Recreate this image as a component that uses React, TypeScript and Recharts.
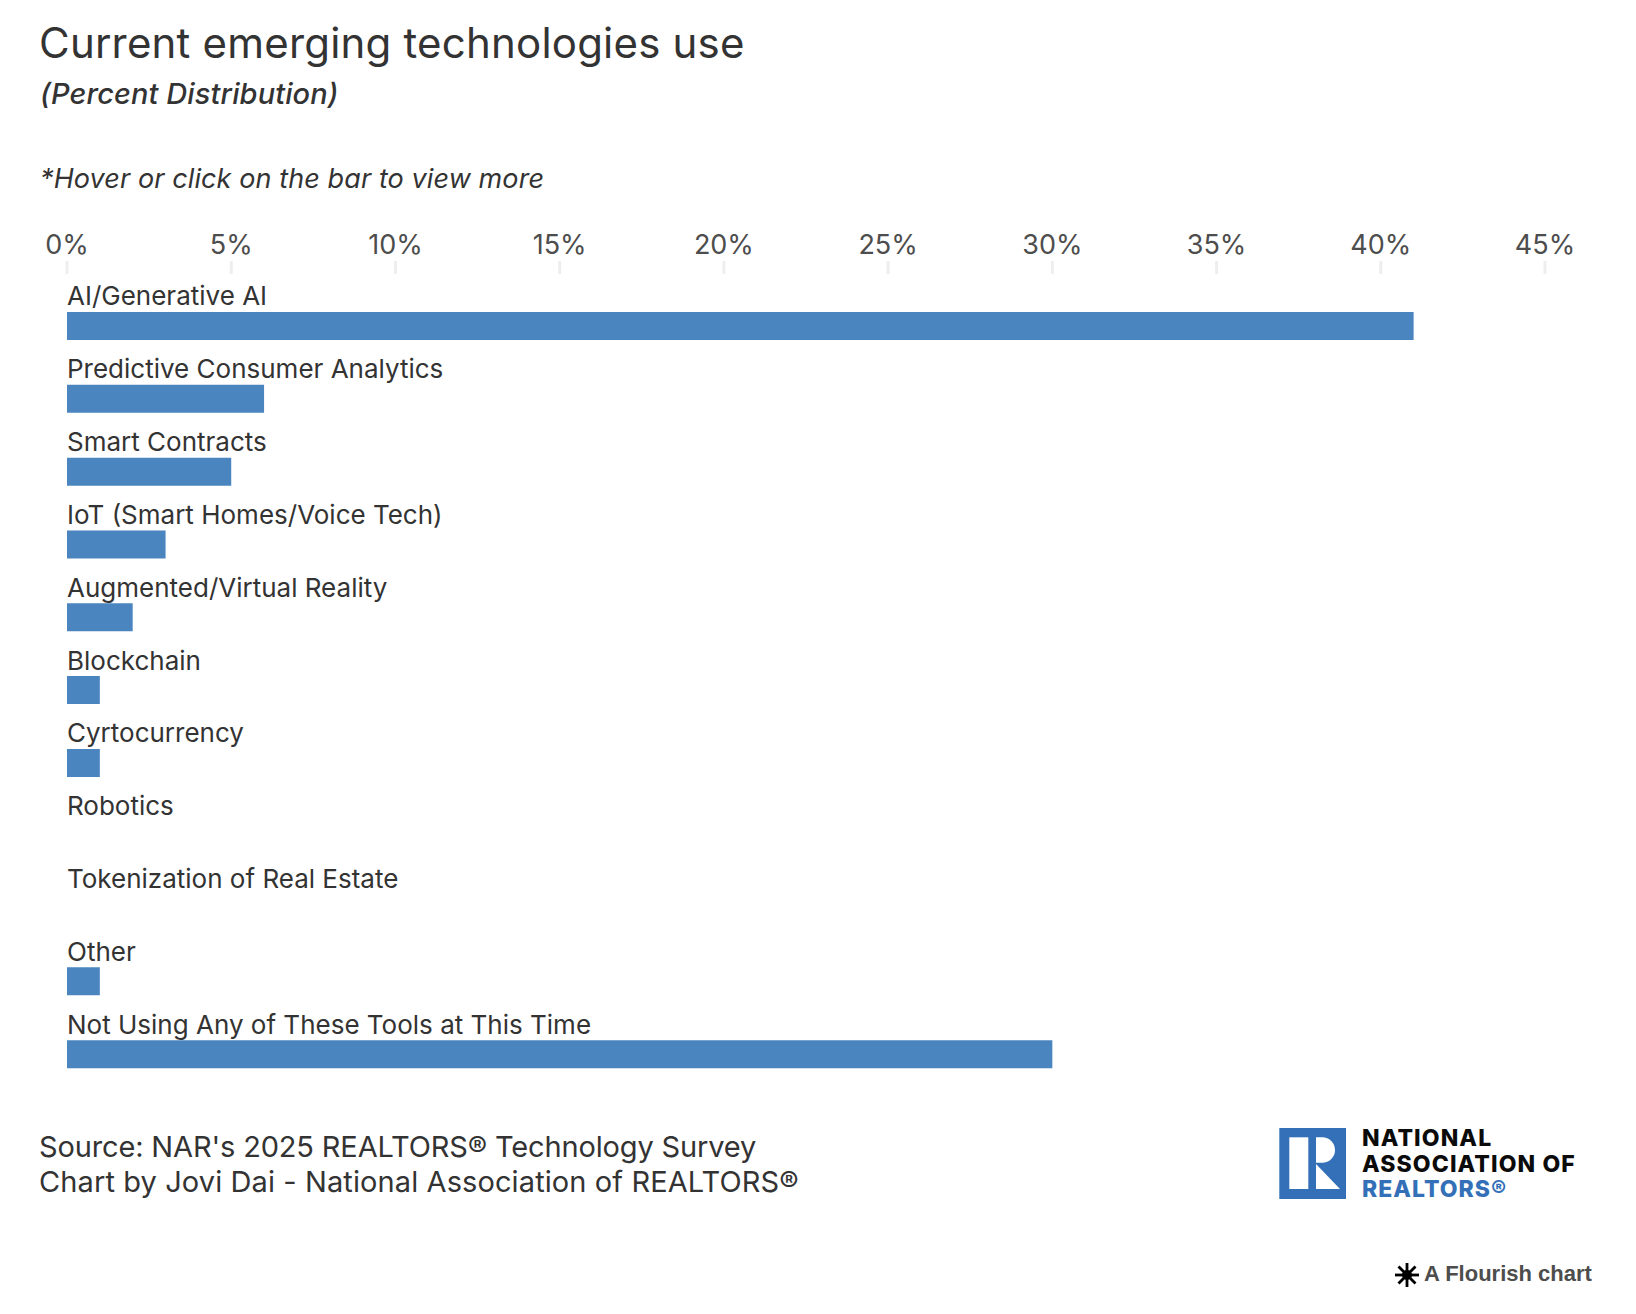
import { BarChart, Bar, XAxis, YAxis } from "recharts";

const categories = [
  "AI/Generative AI",
  "Predictive Consumer Analytics",
  "Smart Contracts",
  "IoT (Smart Homes/Voice Tech)",
  "Augmented/Virtual Reality",
  "Blockchain",
  "Cyrtocurrency",
  "Robotics",
  "Tokenization of Real Estate",
  "Other",
  "Not Using Any of These Tools at This Time",
];
const shares = [41, 6, 5, 3, 2, 1, 1, 0, 0, 1, 30];
const xTicks = [0, 5, 10, 15, 20, 25, 30, 35, 40, 45];

const data = categories.map((name, i) => ({ name, share: shares[i] }));

const FONT = "Inter, 'Noto Sans', sans-serif";

// category names sit above their bars, so the y axis tick is drawn left aligned
const CategoryTick = (props: any) => {
  const { x, y, payload } = props;
  return (
    <text x={x} y={y - 21} fill="#333333" fontSize={26} fontFamily={FONT} textAnchor="start">
      {payload.value}
    </text>
  );
};

function Text({ left, top, size, color = "#333333", italic, weight, spacing, children, font }: any) {
  return (
    <div
      style={{
        position: "absolute",
        left,
        top,
        fontSize: size,
        lineHeight: `${size}px`,
        color,
        fontStyle: italic ? "italic" : "normal",
        fontWeight: weight ?? 400,
        letterSpacing: spacing,
        fontFamily: font ?? FONT,
        whiteSpace: "nowrap",
      }}
    >
      {children}
    </div>
  );
}

function Logo() {
  return (
    <svg style={{ position: "absolute", left: 1279, top: 1127 }} width={72} height={74} viewBox="0 0 72 74">
      <rect x={0.3} y={1} width={66.7} height={71} fill="#3370b7" />
      <rect x={10.3} y={10.3} width={19} height={51.7} fill="#fff" />
      <path d="M37 10.3 H43.3 A12.7 12.7 0 0 1 43.3 35.7 H37 Z" fill="#fff" />
      <path d="M37 37 L61 62 H37 Z" fill="#fff" />
    </svg>
  );
}

export default function App() {
  return (
    <div style={{ position: "absolute", left: 0, top: 0, width: 1636, height: 1314, background: "#fff", overflow: "hidden" }}>
      <Text left={39} top={22} size={42} spacing={0.2}>Current emerging technologies use</Text>
      <Text left={40} top={79} size={29} italic weight={500} spacing={0.1}>(Percent Distribution)</Text>
      <Text left={40} top={165} size={27} italic spacing={0.1}>*Hover or click on the bar to view more</Text>

      <div style={{ position: "absolute", left: 0, top: 0 }}>
        <BarChart
          width={1636}
          height={1100}
          data={data}
          layout="vertical"
          margin={{ top: 0, right: 91, bottom: 9, left: 66 }}
        >
          <XAxis
            type="number"
            orientation="top"
            domain={[0, 45]}
            ticks={xTicks}
            tickFormatter={(v: number) => `${v}%`}
            height={274}
            axisLine={false}
            tickSize={13}
            tickLine={{ stroke: "#eeeeee", strokeWidth: 3 }}
            tick={{ fill: "#4d4d4d", fontSize: 27, fontFamily: FONT }}
            tickMargin={7}
            interval={0}
          />
          <YAxis
            type="category"
            dataKey="name"
            width={1}
            axisLine={false}
            tickLine={false}
            tickSize={0}
            tickMargin={0}
            interval={0}
            tick={CategoryTick}
            padding={{ top: 16, bottom: 0 }}
          />
          <Bar dataKey="share" fill="#4a85bf" barSize={28} isAnimationActive={false} />
        </BarChart>
      </div>

      <Text left={39} top={1132} size={29} spacing={-0.15}>Source: NAR's 2025 REALTORS® Technology Survey</Text>
      <Text left={39} top={1167} size={29} spacing={0.1}>Chart by Jovi Dai - National Association of REALTORS®</Text>

      <Logo />
      <Text left={1362} top={1127} size={23} color="#0b0b0b" weight={800} spacing={1.1}>NATIONAL</Text>
      <Text left={1362} top={1153} size={23} color="#0b0b0b" weight={800} spacing={1.1}>ASSOCIATION OF</Text>
      <Text left={1362} top={1178} size={23} color="#3370b7" weight={800} spacing={1}>REALTORS®</Text>

      <svg style={{ position: "absolute", left: 1394, top: 1262 }} width={26} height={26} viewBox="-13 -13 26 26">
        {[0, 45, 90, 135].map((a) => (
          <rect key={a} x={-12} y={-1.4} width={24} height={2.8} fill="#000" transform={`rotate(${a})`} />
        ))}
        <circle r={5} fill="#000" />
      </svg>
      <Text left={1424} top={1263} size={22} color="#4d4d4d" weight={700} font="'Liberation Sans', Arial, sans-serif">A Flourish chart</Text>
    </div>
  );
}
